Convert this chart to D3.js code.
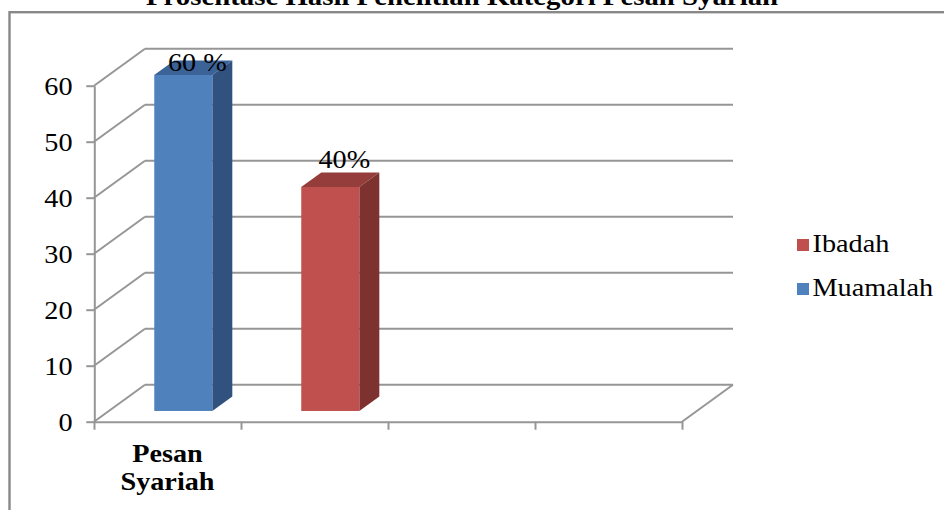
<!DOCTYPE html>
<html>
<head>
<meta charset="utf-8">
<script src="https://cdn.jsdelivr.net/npm/d3@7"></script>
<style>
  html, body { margin: 0; padding: 0; background: #fff; }
  svg { display: block; }
  text { font-family: "Liberation Serif", "Times New Roman", serif; fill: #000; }
</style>
</head>
<body>
<svg id="chart" width="944" height="510"></svg>
<script>
// ---- data ----
const title = "Prosentase Hasil Penelitian Kategori Pesan Syariah";
const categories = ["Pesan Syariah", "", "", ""];
const seriesNames = ["Muamalah", "Ibadah"];
const muamalah = [60, null, null, null];
const ibadah = [null, 40, null, null];
const valueLabels = { Muamalah: "60 %", Ibadah: "40%" };
const yTicks = [0, 10, 20, 30, 40, 50, 60];

// ---- styling ----
const colors = {
  Muamalah: { front: "#4f81bd", side: "#31527f", top: "#3b6398" },
  Ibadah:   { front: "#c0504d", side: "#7e3230", top: "#943d3b" }
};
const gridColor = "#969696";
const SX = 1.13;           // horizontal stretch of the serif text
const DX = 51, DY = -37;   // 3-D depth projection (full depth)
const BAR_D0 = 0.29, BAR_D1 = 0.682;

const svg = d3.select("#chart");

// outer frame
svg.append("rect")
  .attr("x", 9.5).attr("y", 12.2).attr("width", 1000).attr("height", 1000)
  .attr("fill", "none").attr("stroke", "#888").attr("stroke-width", 2.4);

// title (bold serif)
svg.append("g").attr("transform", `translate(462,5) scale(${SX},1)`)
  .append("text").attr("text-anchor", "middle")
  .style("font-weight", "bold").style("font-size", "25.5px")
  .text(title);

// ---- scales ----
const x = d3.scaleBand().domain(d3.range(categories.length)).range([94, 682]).padding(0);
const xEdge = d3.scaleLinear().domain([0, categories.length]).range([94, 682]);
const y = d3.scaleLinear().domain([0, 60]).range([421.7, 85.7]);
const proj = (px, py, d) => [px + d * DX, py + d * DY];

const walls = svg.append("g").attr("stroke", gridColor).attr("stroke-width", 2).attr("fill", "none");

// back wall gridlines + side wall diagonals
yTicks.forEach(t => {
  const [bx0, by] = proj(x.range()[0], y(t), 1);
  const [bx1] = proj(x.range()[1], y(t), 1);
  walls.append("line").attr("x1", bx0).attr("y1", by).attr("x2", bx1).attr("y2", by);
  walls.append("line").attr("x1", x.range()[0]).attr("y1", y(t)).attr("x2", bx0).attr("y2", by);
});
// floor right edge
{
  const [fx, fy] = proj(x.range()[1], y(0), 1);
  walls.append("line").attr("x1", x.range()[1]).attr("y1", y(0)).attr("x2", fx).attr("y2", fy);
}

// ---- bars ----
const bars = svg.append("g");
const seriesData = { Muamalah: muamalah, Ibadah: ibadah };
const barW = x.bandwidth() * 0.395;
const labels = [];
seriesNames.forEach(name => {
  seriesData[name].forEach((v, i) => {
    if (v == null) return;
    const c = colors[name];
    const xl = x(i) + (x.bandwidth() - barW) / 2 + 1;
    const xr = xl + barW;
    const yt = y(v), yb = y(0);
    const pts = (arr) => arr.map(p => p.join(",")).join(" ");
    // top face
    bars.append("polygon").attr("fill", c.top)
      .attr("points", pts([proj(xl, yt, BAR_D0), proj(xr, yt, BAR_D0), proj(xr, yt, BAR_D1), proj(xl, yt, BAR_D1)]));
    // side face
    bars.append("polygon").attr("fill", c.side)
      .attr("points", pts([proj(xr, yt, BAR_D0), proj(xr, yt, BAR_D1), proj(xr, yb, BAR_D1), proj(xr, yb, BAR_D0)]));
    // front face
    const [fx, fy] = proj(xl, yt, BAR_D0);
    const [, fyb] = proj(xl, yb, BAR_D0);
    bars.append("rect").attr("fill", c.front)
      .attr("x", fx).attr("y", fy).attr("width", barW).attr("height", fyb - fy);
    const [, backTop] = proj(xl, yt, BAR_D1);
    labels.push({ text: valueLabels[name], x: fx + barW / 2 + 14, y: Math.max(backTop - 4, proj(0, y(60), 1)[1] + 22) });
  });
});

// ---- axes ----
const yAxis = svg.append("g").attr("transform", "translate(94.3,0)")
  .call(d3.axisLeft(y).tickValues(yTicks).tickSize(8).tickSizeOuter(0).tickPadding(11.3));
yAxis.selectAll("path, line").attr("stroke", gridColor).attr("stroke-width", 2);
yAxis.selectAll("text")
  .attr("dy", "0.35em")
  .attr("transform", `scale(${SX},1)`)
  .style("font-size", "25px").style("font-family", '"Liberation Serif", serif').attr("fill", "#000");

const xAxis = svg.append("g").attr("transform", `translate(0,${y(0)})`)
  .call(d3.axisBottom(xEdge).tickValues(d3.range(categories.length + 1)).tickFormat("").tickSize(8).tickSizeOuter(0));
xAxis.selectAll("path, line").attr("stroke", gridColor).attr("stroke-width", 2);

// category labels (two lines, bold)
categories.forEach((cat, i) => {
  if (!cat) return;
  const words = cat.split(" ");
  words.forEach((w, k) => {
    svg.append("g").attr("transform", `translate(${x(i) + x.bandwidth() / 2},${461.7 + k * 28.5}) scale(${SX},1)`)
      .append("text").attr("text-anchor", "middle")
      .style("font-weight", "bold").style("font-size", "25px").text(w);
  });
});

// value labels
labels.forEach(l => {
  svg.append("g").attr("transform", `translate(${l.x},${l.y}) scale(${SX},1)`)
    .append("text").attr("text-anchor", "middle").style("font-size", "25px").text(l.text);
});

// ---- legend ----
const legendOrder = seriesNames.slice().reverse();
const legend = svg.append("g").attr("transform", "translate(797,239)");
legendOrder.forEach((name, k) => {
  const g = legend.append("g").attr("transform", `translate(0,${k * 44})`);
  g.append("rect").attr("width", 12).attr("height", 12).attr("fill", colors[name].front);
  g.append("g").attr("transform", `translate(15.5,12.7) scale(${SX},1)`)
    .append("text").style("font-size", "25px").text(name);
});
</script>
</body>
</html>
